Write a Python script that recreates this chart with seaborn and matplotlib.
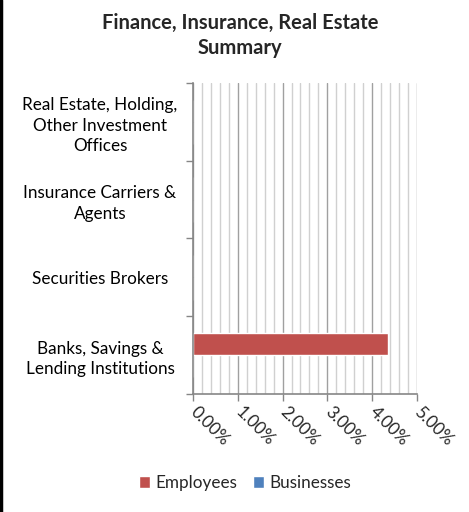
import matplotlib
matplotlib.use("Agg")
import numpy as np
import pandas as pd
import matplotlib.pyplot as plt
import seaborn as sns
from matplotlib.ticker import MultipleLocator, PercentFormatter, FixedLocator
from matplotlib.lines import Line2D

# data (top to bottom as drawn)
categories = [
    "Real Estate, Holding,\nOther Investment\nOffices",
    "Insurance Carriers &\nAgents",
    "Securities Brokers",
    "Banks, Savings &\nLending Institutions",
]
employees  = [0.0, 0.0, 0.0, 0.0435]
businesses = [0.0, 0.0, 0.0, 0.0]
series     = ["Employees", "Businesses"]
colors     = ["#C0504D", "#4F81BD"]
x_ticks    = [0.0, 0.01, 0.02, 0.03, 0.04, 0.05]

df = pd.DataFrame({
    "category": categories * 2,
    "value": employees + businesses,
    "series": ["Employees"] * len(categories) + ["Businesses"] * len(categories),
})

sns.set_style("white")
plt.rcParams["font.family"] = ["Lato", "DejaVu Sans"]

fig = plt.figure(figsize=(4.69, 5.12), dpi=100)
ax = fig.add_axes([0.4115, 0.2305, 0.4775, 0.6075])

sns.barplot(data=df, x="value", y="category", hue="series",
            order=categories, hue_order=series, palette=colors,
            width=0.57, orient="h", ax=ax, saturation=1, legend=True)

ax.set_xlim(x_ticks[0], x_ticks[-1])
ax.set_ylim(len(categories) - 0.5, -0.5)
ax.xaxis.set_major_locator(FixedLocator(x_ticks))
ax.xaxis.set_minor_locator(MultipleLocator(0.002))
ax.xaxis.set_major_formatter(PercentFormatter(xmax=1, decimals=2))

ax.grid(False)
ax.grid(True, axis="x", which="minor", color="#D0D0D0", lw=1.0)
ax.grid(True, axis="x", which="major", color="#A0A0A0", lw=1.0)
ax.set_axisbelow(True)

ax.set_xlabel("")
ax.set_ylabel("")

for s in ["top", "right"]:
    ax.spines[s].set_visible(False)
for s in ["left", "bottom"]:
    ax.spines[s].set_color("#868686")
    ax.spines[s].set_linewidth(1.2)

# category boundary ticks
ax.yaxis.set_minor_locator(FixedLocator(np.arange(-0.5, len(categories), 1.0)))
ax.tick_params(axis="y", which="minor", left=True, length=5, color="#868686", width=1)
ax.tick_params(axis="y", which="major", left=True, length=0, pad=67, labelsize=12.3)
for lab in ax.get_yticklabels():
    lab.set_horizontalalignment("center")
    lab.set_linespacing(1.35)
    lab.set_color("#000000")

ax.tick_params(axis="x", which="major", bottom=True, length=5, color="#868686",
               width=1, labelsize=12.3, pad=6)
ax.tick_params(axis="x", which="minor", bottom=False, length=0)
for lab in ax.get_xticklabels():
    lab.set_rotation(-45)
    lab.set_horizontalalignment("left")
    lab.set_verticalalignment("center")
    lab.set_rotation_mode("anchor")

handles, labels = ax.get_legend_handles_labels()
ax.legend_.remove()
fig.legend(handles, labels, loc="center", bbox_to_anchor=(0.522, 0.057),
           ncol=2, frameon=False, fontsize=12.3, handlelength=0.65,
           handleheight=0.65, handletextpad=0.3, columnspacing=0.95)

fig.text(0.512, 0.93, "Finance, Insurance, Real Estate\nSummary",
         ha="center", va="center", fontsize=14.5, fontweight="bold",
         linespacing=1.3)

fig.add_artist(Line2D([0.002, 0.002], [0, 1], transform=fig.transFigure,
                      color="black", lw=2.5))

fig.savefig("out.png", dpi=100)
